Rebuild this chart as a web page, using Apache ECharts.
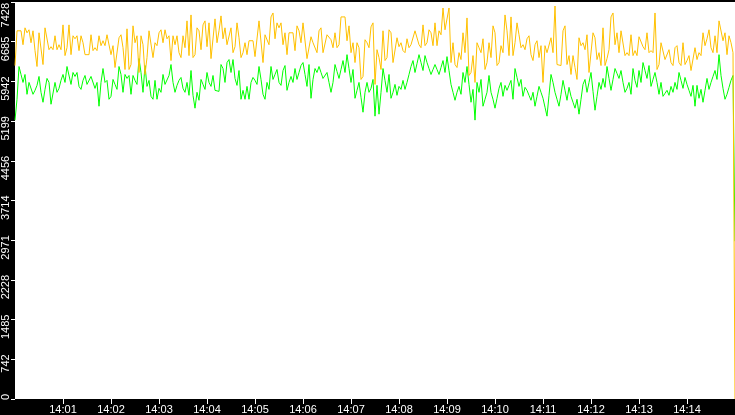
<!DOCTYPE html>
<html lang="en">
<head>
    <meta charset="UTF-8">
    <title>throughput</title>
    <style>
        html, body { margin: 0; padding: 0; background: #000; }
        #main { width: 735px; height: 415px; }
    </style>
</head>
<body>
<div id="main"></div>
<script src="https://cdn.jsdelivr.net/npm/echarts@6/dist/echarts.min.js"></script>
<script>
    // one sample every 2.5 seconds, 14:00:00 .. 14:15:00 (24 samples per row = 1 minute)
    var startSec = 14 * 3600;
    var stepSec = 2.5;

    var yellowValues = [
        6239,6889, 6852,6889, 6629,6945, 6852,6908, 6666,6889, 6518,6221, 6852,6889, 6258,6945, 6908,6536, 6592,6536, 6796,6536, 6629,6536,
        7000,6425, 6573,7000, 6443,6796, 6740,6796, 6518,6796, 6666,6443, 6480,6443, 6815,6518, 6573,6518, 6796,6611, 6703,6611, 6815,6852,
        6443,6611, 6202,6165, 6759,6815, 6573,6165, 6926,6165, 6258,6982, 6666,6796, 6109,6796, 6629,6072, 6388,6889, 6852,6388, 6666,6611,
        6852,6908, 6666,6908, 6740,6796, 6332,6796, 6629,6796, 6480,6388, 6796,6573, 7075,6425, 7186,6388, 6443,6945, 6889,6536, 7000,7075,
        6592,7038, 6369,6332, 7112,6666, 6889,7168, 6740,6945, 6629,6611, 6945,6480, 6592,7038, 6759,6388, 6480,6666, 6443,6703, 6666,6703,
        6406,6388, 7075,7093, 6295,6815, 6778,6629, 7149,7223, 6740,7038, 6945,7038, 6629,6852, 6443,6852, 6815,6852, 6518,6982, 6889,6666,
        7038,7075, 6369,6332, 6778,6666, 6703,6480, 6889,6945, 6480,6443, 6815,6852, 6722,6573, 6852,6573, 6629,7149, 7112,7149, 6703,6982,
        6480,6666, 6295,6666, 6573,5979, 6035,6722, 6666,6573, 6963,7038, 5886,6536, 6388,6165, 6889,6332, 6388,6908, 6852,6295, 6332,6759,
        6592,6666, 6518,6480, 6740,6573, 6629,6611, 6889,6908, 6629,6573, 7000,6611, 6666,6908, 6852,6611, 7038,6611, 6889,6815, 7316,6908,
        6945,7316, 6295,6666, 6258,6202, 6480,6351, 6852,6480, 7130,6053, 6109,6425, 5923,6666, 6573,6480, 6740,6165, 6295,6666, 6388,6982,
        6852,6239, 6295,6611, 6480,7186, 6889,6425, 7149,6425, 6666,7038, 6815,6573, 6629,6536, 6740,6796, 6443,6332, 6629,6703, 6388,6611,
        5923,6611, 6480,6443, 6759,6480, 7353,6258, 6295,6239, 6889,6982, 6258,6425, 6072,6425, 6202,5979, 6759,6611, 6666,6536, 6815,6109,
        6146,6852, 6759,6351, 6480,6239, 6945,6239, 6369,6536, 7149,7223, 6629,6852, 6480,6889, 6852,6425, 6480,6425, 6815,6425, 6518,6425,
        6778,6815, 6592,6536, 6852,6480, 6518,6480, 7223,6165, 6258,6666, 6629,6351, 6388,6536, 6295,6239, 6573,6611, 6295,6239, 6666,6258,
        6332,6425, 6146,6109, 6573,6351, 6480,6425, 6852,6611, 6740,6908, 6573,6480, 6796,6480, 7075,7093, 6703,6852, 6443,6796, 6666,6480,
        0
    ];

    var greenValues = [
        5218,5608, 6221,6072, 5923,6072, 5701,5923, 5886,5701, 5775,5868, 6035,5738, 5552,5793, 5998,5923, 5515,5496, 5923,5738, 5812,5961,
        6072,5923, 6221,6239, 5886,6109, 6035,6109, 5849,5793, 5961,6053, 5886,5868, 6035,6072, 5812,5923, 5478,5923, 6183,5923, 5961,5608,
        5663,5979, 5886,5793, 6221,6072, 5738,6072, 5998,6053, 5701,6053, 5961,5886, 6369,6109, 5738,6239, 5849,5961, 5663,5608, 5961,5608,
        5812,5738, 6072,5886, 5923,6053, 6258,5923, 5738,5868, 5961,6016, 5812,5738, 5923,5682, 6146,5682, 5441,5738, 5589,5979, 5886,5793,
        6109,5923, 5849,6053, 5775,5793, 5756,6258, 6183,5923, 6295,6351, 6109,6351, 5998,5868, 6146,5608, 5775,5608, 5849,5608, 5923,6016,
        5961,5886, 6221,5979, 5701,5608, 5923,5793, 6221,5979, 6072,6165, 5923,5868, 6146,6239, 5775,5923, 6035,5923, 6183,5979, 6109,6239,
        6295,6072, 5849,6258, 5626,5979, 6183,6109, 6221,6109, 5998,5961, 6109,5923, 5738,5923, 6258,6128, 5998,6165, 6332,6109, 6443,6183,
        5923,6165, 5626,5775, 5923,5645, 5366,5738, 5923,5738, 5812,5979, 5292,5868, 5329,5738, 6183,5961, 5738,6072, 5626,5738, 5886,5682,
        5849,5793, 5961,5793, 5923,6072, 6221,6332, 6109,6276, 6443,6295, 6146,6425, 6295,6183, 6072,6165, 6258,6165, 6072,6202, 6332,6109,
        6406,6146, 5886,5738, 5589,5738, 5849,5701, 6109,5923, 6221,5886, 5552,5793, 5218,5923, 5738,5979, 5478,5608, 5738,6053, 5738,5608,
        5441,5626, 5812,5923, 5663,5868, 5775,5868, 5961,5608, 6183,6016, 5849,5979, 5663,5831, 5775,5682, 5589,5738, 5478,5663, 5849,5738,
        5626,5459, 5292,5682, 6072,5923, 5738,5608, 5478,5701, 5961,5775, 5589,5831, 5663,5552, 5441,5608, 5329,5608, 5886,5979, 5738,5923,
        6109,5756, 5403,5663, 5923,5793, 5998,5831, 6221,5998, 5775,5979, 6183,6091, 5998,6146, 5923,5738, 5812,5923, 5701,6183, 5961,5831,
        6146,5923, 6295,6146, 5998,6239, 5849,5979, 6109,5923, 5701,5923, 5663,5719, 5775,5682, 5849,5738, 5923,5793, 6109,5961, 5812,6016,
        5886,5775, 5663,5868, 5478,5868, 5626,5793, 5552,5775, 5998,5793, 5923,6035, 6146,5979, 6443,6053, 5812,5608, 5701,5831, 5961,6053,
        2952
    ];

    var yMax = 7428;
    var yStep = 742.8;

    function pad(n) { return (n < 10 ? '0' : '') + n; }

    var timeLabels = [];
    for (var i = 0; i < yellowValues.length; i++) {
        var s = Math.floor(startSec + i * stepSec);
        timeLabels.push(pad(Math.floor(s / 3600)) + ':' + pad(Math.floor(s / 60) % 60) + ':' + pad(s % 60));
    }

    // label / tick only on whole minutes, not at the two ends
    function onMinute(index) {
        return (index * stepSec) % 60 === 0 && index > 0 && index < timeLabels.length - 1;
    }

    var chart = echarts.init(document.getElementById('main'));

    var option = {
        backgroundColor: '#000',
        animation: false,
        textStyle: { fontFamily: 'Liberation Sans' },
        grid: {
            left: 15, right: 0, top: -1, bottom: 16,
            show: true, backgroundColor: '#fff', borderWidth: 0
        },
        xAxis: {
            type: 'category',
            boundaryGap: false,
            data: timeLabels,
            axisLine: { show: false },
            axisTick: { show: true, length: 5, interval: onMinute, lineStyle: { color: '#fff' } },
            axisLabel: {
                interval: onMinute,
                color: '#fff', fontSize: 11, margin: 5,
                formatter: function(v) { return v.slice(0, 5); }
            },
            splitLine: { show: false }
        },
        yAxis: {
            type: 'value',
            min: 0,
            max: yMax,
            interval: yStep,
            axisLine: { show: false },
            axisTick: { show: true, length: 4, lineStyle: { color: '#fff' } },
            splitLine: { show: false },
            axisLabel: {
                rotate: 90,
                align: 'right',
                verticalAlign: 'bottom',
                padding: [0, -5, 0, 0],
                margin: 4,
                color: '#fff',
                fontSize: 11,
                formatter: function(v) {
                    var t = Math.floor(v + 1e-6);
                    return t >= yMax ? '{top|' + t + '}' : String(t);
                },
                rich: {
                    top: { color: '#fff', fontSize: 11, padding: [0, 6, 0, 0] }
                }
            }
        },
        series: [
            {
                name: 'green',
                type: 'line',
                data: greenValues,
                showSymbol: false,
                lineStyle: { color: '#00ff00', width: 1 },
                itemStyle: { color: '#00ff00' }
            },
            {
                name: 'yellow',
                type: 'line',
                data: yellowValues,
                showSymbol: false,
                lineStyle: { color: '#ffc000', width: 1 },
                itemStyle: { color: '#ffc000' }
            }
        ]
    };

    chart.setOption(option);
</script>
</body>
</html>
